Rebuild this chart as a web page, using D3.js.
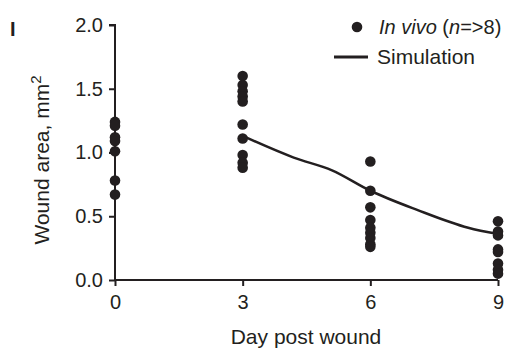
<!DOCTYPE html>
<html>
<head>
<meta charset="utf-8">
<script src="https://cdn.jsdelivr.net/npm/d3@7"></script>
<style>
  body { margin: 0; background: #fff; }
  text { font-family: "Liberation Sans", Arial, sans-serif; fill: #231f20; }
</style>
</head>
<body>
<div id="chart"></div>
<script>
// In vivo wound areas (mm^2) per day
var days = [0, 3, 6, 9];
var day0 = [1.24, 1.21, 1.12, 1.09, 1.01, 0.78, 0.67];
var day3 = [1.60, 1.53, 1.48, 1.44, 1.40, 1.22, 1.11, 0.98, 0.92, 0.88];
var day6 = [0.93, 0.70, 0.57, 0.47, 0.41, 0.37, 0.33, 0.28, 0.26];
var day9 = [0.46, 0.38, 0.35, 0.24, 0.22, 0.13, 0.08, 0.05];
// Simulation curve
var simDay = [3, 4.2, 5.1, 6, 7.1, 8.3, 9];
var simArea = [1.13, 0.96, 0.86, 0.70, 0.55, 0.41, 0.36];
var yTicks = [0, 0.5, 1.0, 1.5, 2.0];

var width = 526, height = 350;
var margin = {top: 25, right: 28, bottom: 70, left: 115};
var ink = "#231f20";

var svg = d3.select("#chart").append("svg")
  .attr("width", width)
  .attr("height", height);

var x = d3.scaleLinear().domain([0, 9]).range([margin.left, width - margin.right]);
var y = d3.scaleLinear().domain([0, 2]).range([height - margin.bottom, margin.top]);

// flatten the point groups
var points = [];
[day0, day3, day6, day9].forEach(function(vals, i) {
  vals.forEach(function(v) { points.push({day: days[i], area: v}); });
});

// axes
var xAxis = svg.append("g")
  .attr("transform", "translate(0," + y(0) + ")")
  .call(d3.axisBottom(x).tickValues(days).tickSize(6).tickPadding(9));
var yAxis = svg.append("g")
  .attr("transform", "translate(" + x(0) + ",0)")
  .call(d3.axisLeft(y).tickValues(yTicks).tickFormat(d3.format(".1f")).tickSize(6).tickPadding(6));

[xAxis, yAxis].forEach(function(g) {
  g.select(".domain").attr("stroke", ink).attr("stroke-width", 2);
  g.selectAll(".tick line").attr("stroke", ink).attr("stroke-width", 2);
  g.selectAll(".tick text").style("font-size", "20px").attr("fill", ink)
    .style("font-family", "Liberation Sans, Arial, sans-serif");
});
// no outer tick caps on the x axis
xAxis.select(".domain").attr("d", "M" + x(0) + ",0H" + x(9));
yAxis.select(".domain").attr("d", "M0," + y(0) + "V" + y(2) + "H-6");

// simulation line
var line = d3.line()
  .curve(d3.curveMonotoneX)
  .x(function(d, i) { return x(simDay[i]); })
  .y(function(d) { return y(d); });

svg.append("path")
  .datum(simArea)
  .attr("fill", "none")
  .attr("stroke", ink)
  .attr("stroke-width", 2.5)
  .attr("stroke-linecap", "round")
  .attr("d", line);

// in vivo dots
svg.append("g").selectAll("circle")
  .data(points)
  .enter().append("circle")
  .attr("cx", function(d) { return x(d.day); })
  .attr("cy", function(d) { return y(d.area); })
  .attr("r", 5.3)
  .attr("fill", ink);

// axis titles
svg.append("text")
  .attr("x", 306)
  .attr("y", 344)
  .attr("text-anchor", "middle")
  .style("font-size", "21px")
  .text("Day post wound");

var yTitle = svg.append("text")
  .attr("transform", "translate(49," + 160 + ") rotate(-90)")
  .attr("text-anchor", "middle")
  .style("font-size", "21px");
yTitle.append("tspan").text("Wound area, mm");
yTitle.append("tspan").attr("dy", -8).style("font-size", "15px").text("2");

// panel label
svg.append("text")
  .attr("x", 10)
  .attr("y", 36)
  .style("font-size", "20px")
  .style("font-weight", "bold")
  .text("I");

// legend
var legend = svg.append("g");
legend.append("circle").attr("cx", 357).attr("cy", 27).attr("r", 5.3).attr("fill", ink);
var lt = legend.append("text").attr("x", 379).attr("y", 34).style("font-size", "20px");
lt.append("tspan").style("font-style", "italic").text("In vivo");
lt.append("tspan").text(" (");
lt.append("tspan").style("font-style", "italic").text("n");
lt.append("tspan").text("=>8)");
legend.append("line")
  .attr("x1", 334).attr("x2", 368).attr("y1", 57).attr("y2", 57)
  .attr("stroke", ink).attr("stroke-width", 3);
legend.append("text").attr("x", 377).attr("y", 64).style("font-size", "21px").text("Simulation");
</script>
</body>
</html>
